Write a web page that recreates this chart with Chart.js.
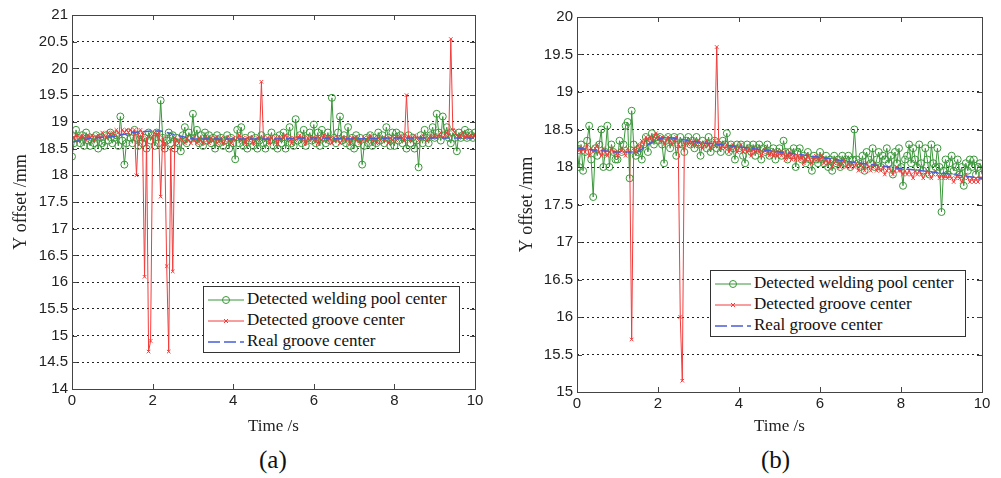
<!DOCTYPE html>
<html>
<head>
  <script src="https://cdn.jsdelivr.net/npm/chart.js@4.4.0/dist/chart.umd.min.js"></script>
  <style>
    body { margin: 0; background: #fff; width: 1001px; height: 478px; position: relative; overflow: hidden; }
    canvas { position: absolute; top: 0; }
    .legend { position: absolute; border: 1px solid #333; background: #fff; font-family: "Liberation Serif", serif; font-size: 17px; color: #111; padding: 1px 4px; line-height: 21px; }
    .legend div { white-space: nowrap; }
    .legend svg { vertical-align: middle; margin-right: 3px; }
    .cap { position: absolute; font-family: "Liberation Serif", serif; font-size: 25px; color: #111; }
  </style>
  <script>
    // time stamps, seconds
    var time = [0, 0.05, 0.1, 0.15, 0.2, 0.25, 0.3, 0.35, 0.4, 0.45, 0.5, 0.55, 0.6, 0.65, 0.7, 0.75, 0.8, 0.85, 0.9, 0.95,
      1, 1.05, 1.1, 1.15, 1.2, 1.25, 1.3, 1.35, 1.4, 1.45, 1.5, 1.55, 1.6, 1.65, 1.7, 1.75, 1.8, 1.85, 1.9, 1.95,
      2, 2.05, 2.1, 2.15, 2.2, 2.25, 2.3, 2.35, 2.4, 2.45, 2.5, 2.55, 2.6, 2.65, 2.7, 2.75, 2.8, 2.85, 2.9, 2.95,
      3, 3.05, 3.1, 3.15, 3.2, 3.25, 3.3, 3.35, 3.4, 3.45, 3.5, 3.55, 3.6, 3.65, 3.7, 3.75, 3.8, 3.85, 3.9, 3.95,
      4, 4.05, 4.1, 4.15, 4.2, 4.25, 4.3, 4.35, 4.4, 4.45, 4.5, 4.55, 4.6, 4.65, 4.7, 4.75, 4.8, 4.85, 4.9, 4.95,
      5, 5.05, 5.1, 5.15, 5.2, 5.25, 5.3, 5.35, 5.4, 5.45, 5.5, 5.55, 5.6, 5.65, 5.7, 5.75, 5.8, 5.85, 5.9, 5.95,
      6, 6.05, 6.1, 6.15, 6.2, 6.25, 6.3, 6.35, 6.4, 6.45, 6.5, 6.55, 6.6, 6.65, 6.7, 6.75, 6.8, 6.85, 6.9, 6.95,
      7, 7.05, 7.1, 7.15, 7.2, 7.25, 7.3, 7.35, 7.4, 7.45, 7.5, 7.55, 7.6, 7.65, 7.7, 7.75, 7.8, 7.85, 7.9, 7.95,
      8, 8.05, 8.1, 8.15, 8.2, 8.25, 8.3, 8.35, 8.4, 8.45, 8.5, 8.55, 8.6, 8.65, 8.7, 8.75, 8.8, 8.85, 8.9, 8.95,
      9, 9.05, 9.1, 9.15, 9.2, 9.25, 9.3, 9.35, 9.4, 9.45, 9.5, 9.55, 9.6, 9.65, 9.7, 9.75, 9.8, 9.85, 9.9, 9.95, 10];

    // (a)
    var poolA = [18.35, 18.6, 18.85, 18.7, 18.6, 18.75, 18.55, 18.8, 18.65, 18.55, 18.7, 18.6, 18.75, 18.5, 18.7, 18.6, 18.55, 18.75, 18.65, 18.8,
      18.6, 18.7, 18.75, 18.55, 19.1, 18.65, 18.2, 18.6, 18.8, 18.7, 18.6, 18.85, 18.7, 18.55, 18.75, 18.6, 18.7, 18.5, 18.8, 18.65,
      18.75, 18.55, 18.8, 18.6, 19.4, 18.7, 18.5, 18.65, 18.8, 18.6, 18.75, 18.5, 18.7, 18.6, 18.45, 18.75, 18.9, 18.6, 18.8, 18.7,
      19.15, 18.7, 18.85, 18.6, 18.75, 18.55, 18.8, 18.65, 18.75, 18.6, 18.7, 18.5, 18.75, 18.6, 18.7, 18.55, 18.65, 18.75, 18.5, 18.7,
      18.6, 18.3, 18.85, 18.6, 18.9, 18.55, 18.7, 18.5, 18.65, 18.75, 18.55, 18.7, 18.5, 18.65, 18.75, 18.6, 18.5, 18.7, 18.65, 18.8,
      18.55, 18.7, 18.5, 18.75, 18.6, 18.8, 18.5, 18.7, 18.9, 18.6, 18.55, 19.05, 18.65, 18.75, 18.6, 18.85, 18.55, 18.7, 18.8, 18.65,
      18.95, 18.6, 18.8, 18.55, 18.85, 18.7, 18.6, 18.8, 18.65, 19.45, 18.7, 18.6, 18.8, 19.1, 18.65, 18.75, 18.6, 18.9, 18.55, 18.7,
      18.5, 18.75, 18.6, 18.7, 18.2, 18.55, 18.7, 18.6, 18.75, 18.55, 18.7, 18.6, 18.8, 18.65, 18.75, 18.6, 18.9, 18.7, 18.55, 18.8,
      18.55, 18.8, 18.65, 18.75, 18.6, 18.7, 18.5, 18.75, 18.6, 18.7, 18.5, 18.65, 18.15, 18.75, 18.6, 18.85, 18.7, 18.6, 18.75, 18.9,
      18.7, 19.15, 18.8, 18.65, 19.1, 18.75, 18.9, 18.7, 18.6, 18.8, 18.7, 18.45, 18.8, 18.7, 18.75, 18.85, 18.7, 18.8, 18.75, 18.7, 18.8];
    var grooveA = [18.75, 18.7, 18.75, 18.65, 18.7, 18.75, 18.7, 18.65, 18.75, 18.7, 18.75, 18.65, 18.7, 18.75, 18.7, 18.8, 18.75, 18.7, 18.8, 18.75,
      18.8, 18.75, 18.85, 18.8, 18.75, 18.85, 18.8, 18.85, 18.8, 18.85, 18.8, 18.85, 18.0, 18.8, 18.85, 18.8, 16.1, 18.7, 14.7, 14.9,
      18.7, 18.8, 18.75, 18.8, 17.6, 18.7, 18.6, 16.3, 14.7, 18.5, 16.2, 18.7, 18.65, 18.6, 18.7, 18.65, 18.6, 18.7, 18.65, 18.6,
      18.7, 18.65, 18.6, 18.7, 18.65, 18.6, 18.7, 18.65, 18.6, 18.7, 18.65, 18.7, 18.6, 18.65, 18.7, 18.6, 18.65, 18.7, 18.65, 18.6,
      18.7, 18.65, 18.7, 18.75, 18.65, 18.7, 18.6, 18.7, 18.65, 18.7, 18.6, 18.65, 18.7, 18.65, 19.75, 18.7, 18.65, 18.7, 18.6, 18.7,
      18.65, 18.7, 18.6, 18.7, 18.65, 18.7, 18.75, 18.65, 18.7, 18.6, 18.7, 18.65, 18.7, 18.75, 18.65, 18.7, 18.6, 18.7, 18.65, 18.7,
      18.65, 18.7, 18.6, 18.7, 18.65, 18.75, 18.7, 18.65, 18.7, 18.6, 18.7, 18.65, 18.7, 18.6, 18.65, 18.7, 18.65, 18.7, 18.6, 18.7,
      18.7, 18.65, 18.7, 18.6, 18.65, 18.7, 18.65, 18.7, 18.75, 18.65, 18.7, 18.6, 18.7, 18.65, 18.7, 18.65, 18.7, 18.6, 18.7, 18.65,
      18.7, 18.65, 18.7, 18.75, 18.7, 18.65, 19.5, 18.7, 18.65, 18.7, 18.75, 18.7, 18.65, 18.7, 18.75, 18.7, 18.65, 18.7, 18.75, 18.7,
      18.75, 18.7, 18.75, 18.8, 18.7, 18.75, 18.8, 18.75, 20.55, 18.85, 18.8, 18.75, 18.7, 18.75, 18.8, 18.7, 18.75, 18.7, 18.75, 18.7, 18.75];
    var realTimeA = [0, 0.5, 1, 1.5, 2, 2.2, 2.6, 3, 4, 5, 6, 7, 8, 9, 10];
    var realA = [18.62, 18.7, 18.72, 18.8, 18.83, 18.83, 18.75, 18.68, 18.68, 18.68, 18.7, 18.68, 18.7, 18.7, 18.7];

    // (b)
    var poolB = [18.25, 18.0, 18.3, 17.95, 18.2, 18.35, 18.55, 18.1, 17.6, 18.25, 18.15, 18.3, 18.5, 18.0, 18.2, 18.55, 18.0, 18.3, 18.2, 18.1,
      18.1, 18.35, 18.2, 18.3, 18.55, 18.6, 17.85, 18.75, 18.3, 18.15, 18.2, 18.25, 18.1, 18.3, 18.4, 18.2, 18.35, 18.45, 18.3, 18.4,
      18.35, 18.4, 18.3, 18.05, 18.35, 18.4, 18.25, 18.35, 18.4, 18.15, 18.3, 18.4, 18.3, 18.2, 18.35, 18.4, 18.3, 18.35, 18.25, 18.4,
      18.3, 18.15, 18.35, 18.3, 18.25, 18.4, 18.2, 18.3, 18.35, 18.25, 18.3, 18.2, 18.35, 18.3, 18.45, 18.2, 18.3, 18.25, 18.1, 18.3,
      18.25, 18.3, 18.15, 18.05, 18.3, 18.25, 18.2, 18.3, 18.15, 18.25, 18.3, 18.1, 18.25, 18.2, 18.3, 18.15, 18.2, 18.25, 18.1, 18.2,
      18.25, 18.15, 18.35, 18.2, 18.1, 18.2, 18.15, 18.25, 18.0, 18.2, 18.25, 18.1, 18.15, 18.05, 18.2, 18.1, 17.95, 18.15, 18.1, 18.05,
      18.2, 18.1, 18.05, 18.15, 18.0, 18.1, 17.95, 18.15, 18.05, 18.1, 18.0, 18.15, 18.05, 18.1, 18.15, 18.0, 18.1, 18.5, 18.1, 18.05,
      18.0, 18.15, 17.95, 18.2, 18.1, 18.05, 18.25, 18.0, 18.1, 18.2, 18.0, 18.15, 18.1, 18.25, 18.05, 18.15, 17.9, 18.2, 18.05, 18.25,
      18.0, 17.75, 18.1, 18.15, 18.3, 18.05, 18.25, 18.1, 18.0, 18.3, 18.05, 17.95, 18.25, 18.1, 17.9, 18.3, 18.05, 18.0, 18.25, 18.0,
      17.4, 17.95, 18.1, 17.9, 18.05, 18.15, 17.95, 18.0, 18.1, 17.9, 18.0, 17.75, 18.05, 17.95, 18.1, 18.0, 18.1, 17.9, 18.0, 18.05, 17.9];
    var grooveB = [18.2, 18.25, 18.2, 18.25, 18.2, 18.3, 18.15, 18.25, 18.2, 18.25, 18.3, 18.2, 18.15, 18.25, 18.2, 18.15, 18.2, 18.25, 18.2, 18.2,
      18.15, 18.2, 18.25, 18.2, 18.15, 18.25, 18.2, 15.7, 18.25, 18.2, 18.3, 18.25, 18.35, 18.3, 18.4, 18.35, 18.4, 18.35, 18.4, 18.45,
      18.4, 18.35, 18.4, 18.3, 18.35, 18.4, 18.35, 18.3, 18.35, 18.4, 18.3, 16.0, 15.15, 18.3, 18.35, 18.3, 18.35, 18.3, 18.35, 18.3,
      18.35, 18.3, 18.25, 18.3, 18.35, 18.3, 18.25, 18.3, 18.35, 19.6, 18.3, 18.25, 18.3, 18.25, 18.3, 18.2, 18.25, 18.3, 18.25, 18.2,
      18.25, 18.3, 18.2, 18.25, 18.2, 18.25, 18.15, 18.25, 18.2, 18.25, 18.2, 18.15, 18.2, 18.25, 18.2, 18.15, 18.2, 18.15, 18.2, 18.15,
      18.2, 18.15, 18.2, 18.1, 18.15, 18.2, 18.1, 18.15, 18.1, 18.15, 18.1, 18.15, 18.05, 18.1, 18.15, 18.1, 18.05, 18.1, 18.15, 18.1,
      18.1, 18.15, 18.05, 18.1, 18.05, 18.1, 18.0, 18.05, 18.1, 18.05, 18.0, 18.05, 18.1, 18.0, 18.05, 18.0, 18.05, 18.0, 18.05, 17.95,
      18.05, 18.0, 17.95, 18.05, 18.0, 17.95, 18.0, 18.05, 17.95, 18.0, 17.95, 18.0, 17.9, 17.95, 18.0, 17.95, 17.9, 17.95, 18.0, 17.95,
      17.95, 17.9, 17.95, 17.9, 17.95, 17.9, 17.85, 17.95, 17.9, 17.95, 17.9, 17.85, 17.9, 17.95, 17.9, 17.85, 17.9, 17.95, 17.9, 17.85,
      17.9, 17.85, 17.9, 17.85, 17.9, 17.85, 17.8, 17.85, 17.9, 17.85, 17.8, 17.85, 17.9, 17.85, 17.8, 17.85, 17.8, 17.85, 17.8, 17.85, 17.85];
    var realTimeB = [0, 0.5, 1, 1.5, 1.9, 2.2, 3, 4, 5, 6, 7, 8, 9, 10];
    var realB = [18.25, 18.22, 18.2, 18.2, 18.35, 18.4, 18.33, 18.27, 18.2, 18.13, 18.05, 17.98, 17.92, 17.85];

    var xTicks = [0, 2, 4, 6, 8, 10];

    function pts(xs, ys) {
      return xs.map((x, i) => ({ x: x, y: ys[i] }));
    }

    // box round the plot, inward ticks on both axes
    var boxPlugin = {
      id: 'box',
      afterDraw: function (chart) {
        var ctx = chart.ctx, a = chart.chartArea, sx = chart.scales.x, sy = chart.scales.y;
        ctx.save();
        ctx.strokeStyle = '#444';
        ctx.lineWidth = 1;
        ctx.strokeRect(Math.round(a.left) + 0.5, Math.round(a.top) + 0.5, Math.round(a.right - a.left), Math.round(a.bottom - a.top));
        ctx.beginPath();
        xTicks.forEach(function (v) {
          var px = Math.round(sx.getPixelForValue(v)) + 0.5;
          ctx.moveTo(px, a.bottom); ctx.lineTo(px, a.bottom - 5);
          ctx.moveTo(px, a.top); ctx.lineTo(px, a.top + 5);
        });
        sy.ticks.forEach(function (t) {
          var py = Math.round(sy.getPixelForValue(t.value)) + 0.5;
          ctx.moveTo(a.left, py); ctx.lineTo(a.left + 5, py);
          ctx.moveTo(a.right, py); ctx.lineTo(a.right - 5, py);
        });
        ctx.stroke();
        ctx.restore();
      }
    };

    function drawPlot(canvasId, pool, groove, realT, real, yMin, yMax, yWidth, xHeight, yTitlePad, pad) {
      var ctx = document.getElementById(canvasId).getContext('2d');
      new Chart(ctx, {
        type: 'line',
        data: {
          datasets: [
            {
              label: 'Real groove center',
              data: pts(realT, real),
              borderColor: '#4a5fd6',
              borderWidth: 1.5,
              borderDash: [8, 4],
              pointRadius: 0,
              order: 0
            },
            {
              label: 'Detected groove center',
              data: pts(time, groove),
              borderColor: '#f23c3c',
              borderWidth: 1,
              pointStyle: 'crossRot',
              pointRadius: 2.5,
              pointBorderColor: '#f23c3c',
              pointBorderWidth: 1,
              order: 1
            },
            {
              label: 'Detected welding pool center',
              data: pts(time, pool),
              borderColor: '#3a963a',
              borderWidth: 1,
              pointStyle: 'circle',
              pointRadius: 3.5,
              pointBackgroundColor: 'rgba(0,0,0,0)',
              pointBorderColor: '#3a963a',
              pointBorderWidth: 1,
              order: 2
            }
          ]
        },
        options: {
          responsive: false,
          animation: false,
          devicePixelRatio: 1,
          layout: { padding: pad },
          plugins: { legend: { display: false }, tooltip: { enabled: false } },
          scales: {
            x: {
              type: 'linear', min: 0, max: 10,
              afterBuildTicks: function (s) { s.ticks = xTicks.map(v => ({ value: v })); },
              afterFit: function (s) { s.height = xHeight; },
              grid: { display: false, drawTicks: false },
              border: { display: false },
              ticks: { color: '#222', padding: 3, font: { family: 'Liberation Sans', size: 15 } },
              title: { display: true, text: 'Time /s', color: '#222', padding: { top: 4, bottom: 3 }, font: { family: 'Liberation Serif', size: 17 } }
            },
            y: {
              min: yMin, max: yMax,
              ticks: {
                stepSize: 0.5, color: '#222', padding: 4, font: { family: 'Liberation Sans', size: 15 },
                callback: function (v) { return String(Math.round(v * 10) / 10); }
              },
              afterFit: function (s) { s.width = yWidth; },
              grid: { color: '#222', lineWidth: 1, drawTicks: false },
              border: { display: false, dash: [2, 3] },
              title: { display: true, text: 'Y offset /mm', color: '#222', padding: { top: yTitlePad, bottom: 2 }, font: { family: 'Liberation Serif', size: 18 } }
            }
          }
        },
        plugins: [boxPlugin]
      });
    }

    window.onload = function () {
      drawPlot('plotA', poolA, grooveA, realTimeA, realA, 14, 21, 72, 51, 10, { top: 15, right: 25, left: 0, bottom: 0 });
      drawPlot('plotB', poolB, grooveB, realTimeB, realB, 15, 20, 77, 48, 16, { top: 17, right: 19, left: 0, bottom: 0 });
    };
  </script>
</head>
<body>
  <canvas id="plotA" width="500" height="440" style="left:0"></canvas>
  <canvas id="plotB" width="501" height="440" style="left:500px"></canvas>

  <div class="legend" style="left:203px; top:286px; width:247px;">
    <div><svg width="36" height="12"><line x1="0" y1="6" x2="36" y2="6" stroke="#3a963a"/><circle cx="18" cy="6" r="3.5" fill="none" stroke="#3a963a"/></svg>Detected welding pool center</div>
    <div><svg width="36" height="12"><line x1="0" y1="6" x2="36" y2="6" stroke="#f23c3c"/><path d="M16 4 L20 8 M20 4 L16 8" stroke="#f23c3c"/></svg>Detected groove center</div>
    <div><svg width="36" height="12"><line x1="0" y1="6" x2="36" y2="6" stroke="#4a5fd6" stroke-width="1.5" stroke-dasharray="12,4"/></svg>Real groove center</div>
  </div>
  <div class="legend" style="left:710px; top:270px; width:246px;">
    <div><svg width="36" height="12"><line x1="0" y1="6" x2="36" y2="6" stroke="#3a963a"/><circle cx="18" cy="6" r="3.5" fill="none" stroke="#3a963a"/></svg>Detected welding pool center</div>
    <div><svg width="36" height="12"><line x1="0" y1="6" x2="36" y2="6" stroke="#f23c3c"/><path d="M16 4 L20 8 M20 4 L16 8" stroke="#f23c3c"/></svg>Detected groove center</div>
    <div><svg width="36" height="12"><line x1="0" y1="6" x2="36" y2="6" stroke="#4a5fd6" stroke-width="1.5" stroke-dasharray="12,4"/></svg>Real groove center</div>
  </div>

  <div class="cap" style="left:259px; top:446px;">(a)</div>
  <div class="cap" style="left:761px; top:446px;">(b)</div>
</body>
</html>
